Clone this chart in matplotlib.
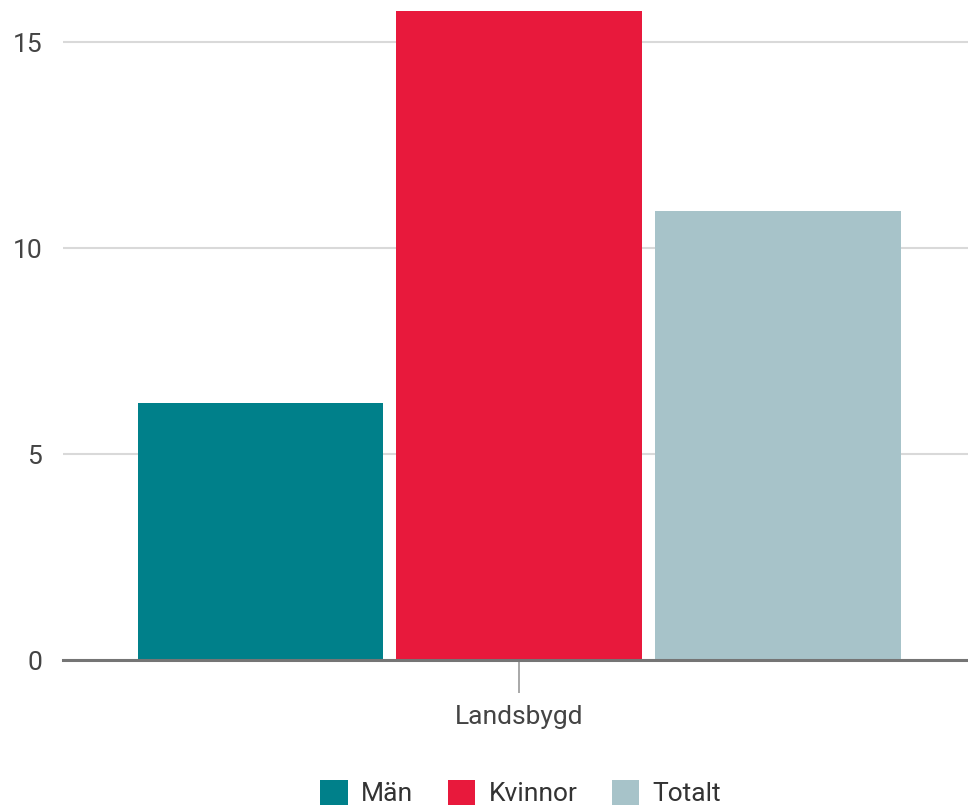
import numpy as np
import matplotlib.pyplot as plt

plt.rcParams['font.family'] = ['Roboto', 'DejaVu Sans']

category = ["Landsbygd"]
series = ["Män", "Kvinnor", "Totalt"]
values = [6.25, 15.75, 10.9]
colors = ["#00808A", "#E8193C", "#A7C3C9"]

fig = plt.figure(figsize=(9.68, 8.07), dpi=100)
ax = fig.add_axes([0.065, 0.182, 0.935, 0.818])

x = np.arange(len(category))
width = 0.271
step = 0.286
for i, (name, val, col) in enumerate(zip(series, values, colors)):
    ax.bar(x + (i - 1) * step, [val], width=width, color=col, label=name, zorder=2)

ax.set_xlim(-0.504, 0.496)
ax.set_ylim(0, 16.02)
ax.set_yticks([0, 5, 10, 15])
ax.grid(axis='y', color='#D9D9D9', linewidth=1.5, zorder=0)
ax.set_xticks(x)
ax.set_xticklabels(category)

for s in ['top', 'right', 'left']:
    ax.spines[s].set_visible(False)
ax.spines['bottom'].set_color('#757575')
ax.spines['bottom'].set_linewidth(2.2)
ax.spines['bottom'].set_zorder(3)

ax.tick_params(axis='y', length=0, pad=15, labelsize=19, labelcolor='#444444')
ax.tick_params(axis='x', length=24, width=1.2, color='#999999', pad=8,
               labelsize=19, labelcolor='#444444')

fig.legend(loc='center', bbox_to_anchor=(0.538, 0.017), ncol=3, frameon=False,
           fontsize=19, handlelength=1.05, handleheight=1.05, handletextpad=0.5,
           columnspacing=1.3, labelcolor='#333333')

fig.savefig("out.png", dpi=100)
